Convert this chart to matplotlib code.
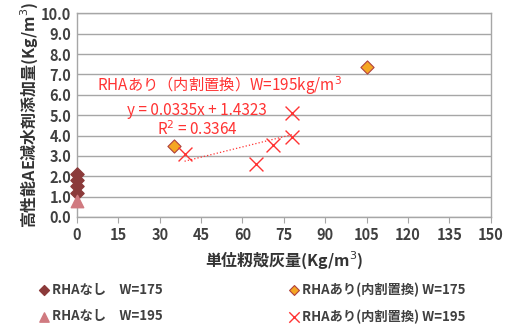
import numpy as np
import matplotlib.pyplot as plt

plt.rcParams['font.family'] = ['Noto Sans CJK JP', 'DejaVu Sans']

# data
no_rha_175_x = [0, 0, 0, 0]
no_rha_175_y = [2.1, 1.8, 1.5, 1.2]
no_rha_195_x = [0]
no_rha_195_y = [0.8]
rha_175_x = [35, 105]
rha_175_y = [3.5, 7.35]
rha_195_x = [39, 65, 71, 78, 78]
rha_195_y = [3.1, 2.6, 3.55, 5.1, 3.95]
slope, intercept = 0.0335, 1.4323

xticks = list(range(0, 151, 15))
yticks = np.arange(0, 10.1, 1.0)

fig = plt.figure(figsize=(5.05, 3.27), dpi=100)
ax = fig.add_axes([0.1525, 0.3364, 0.819, 0.6226])

grid_c = '#a6a6a6'
ax.set_xlim(0, 150)
ax.set_ylim(0, 10)
ax.set_xticks(xticks)
ax.set_yticks(yticks)
ax.set_yticklabels([f'{v:.1f}' for v in yticks])
ax.yaxis.grid(True, color=grid_c, lw=1.0)
ax.set_axisbelow(True)
for s in ['left', 'bottom', 'right', 'top']:
    ax.spines[s].set_color(grid_c)
    ax.spines[s].set_linewidth(1.0)
ax.tick_params(axis='x', direction='out', length=4, color=grid_c, labelsize=10.5, pad=3)
ax.tick_params(axis='y', length=0, labelsize=10.5, pad=4)
for lab in ax.get_xticklabels() + ax.get_yticklabels():
    lab.set_fontweight('bold')
    lab.set_color('#404040')

h1 = ax.scatter(no_rha_175_x, no_rha_175_y, marker='D', s=45, color='#8b3a3a', zorder=3,
                clip_on=False, label='RHAなし　W=175')
h2 = ax.scatter(no_rha_195_x, no_rha_195_y, marker='^', s=80, color='#d07a80', zorder=3,
                clip_on=False, label='RHAなし　W=195')
h3 = ax.scatter(rha_175_x, rha_175_y, marker='D', s=45, facecolor='#f5a623', edgecolor='#b0413e',
                lw=0.8, zorder=3, label='RHAあり(内割置換) W=175')
h4 = ax.scatter(rha_195_x, rha_195_y, marker='x', s=100, color='#ff3333', lw=1.0, zorder=3,
                label='RHAあり(内割置換) W=195')

tx = np.array([min(rha_195_x), max(rha_195_x)])
ax.plot(tx, slope * tx + intercept, color='#ff3333', ls=':', lw=0.9, zorder=2)

red = '#ff3333'
ax.text(7.3, 6.47, 'RHAあり（内割置換）W=195kg/m$^3$', color=red, fontsize=11, va='center')
ax.text(43.6, 5.25, f'y = {slope}x + {intercept}', color=red, fontsize=11,
        ha='center', va='center')
ax.text(43.6, 4.3, 'R$^2$ = 0.3364', color=red, fontsize=11, ha='center', va='center')

ax.set_ylabel('高性能AE減水剤添加量(Kg/m$^3$)', fontsize=11.5, fontweight='bold',
              color='#333333', labelpad=1)
ax.set_xlabel('単位籾殻灰量(Kg/m$^3$)', fontsize=11.5, fontweight='bold',
              color='#333333', labelpad=5)

leg_kw = dict(loc='center left', frameon=False, prop={'size': 9.5, 'weight': 'bold'},
              handletextpad=0.05, handlelength=1.0, labelspacing=0.95,
              markerscale=0.75, borderpad=0, borderaxespad=0)
leg1 = fig.legend([h1, h2], ['RHAなし　W=175', 'RHAなし　W=195'],
                  bbox_to_anchor=(0.075, 0.073), **leg_kw)
leg2 = fig.legend([h3, h4], ['RHAあり(内割置換) W=175', 'RHAあり(内割置換) W=195'],
                  bbox_to_anchor=(0.57, 0.073), **leg_kw)
for leg in (leg1, leg2):
    for t in leg.get_texts():
        t.set_color('#404040')

fig.savefig('out.png', dpi=100)
